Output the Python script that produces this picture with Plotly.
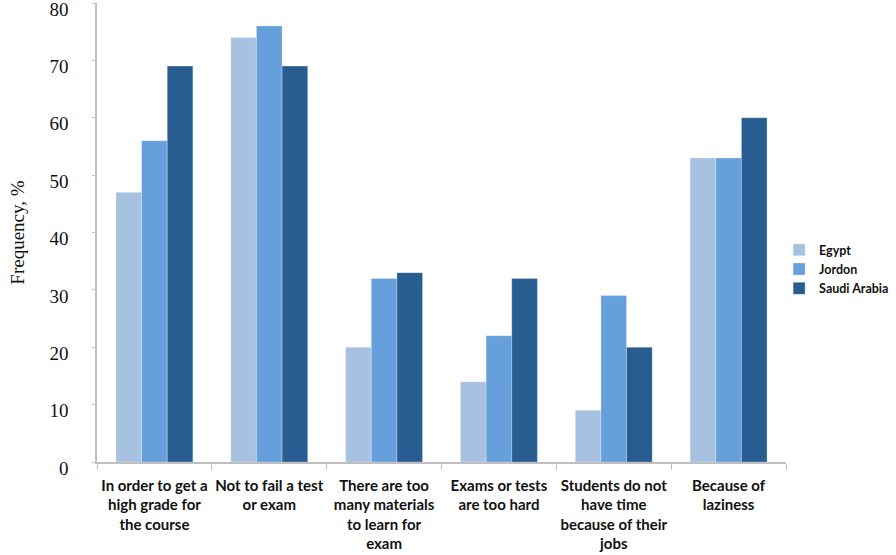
import plotly.graph_objects as go

categories = ["c1", "c2", "c3", "c4", "c5", "c6"]
tick_labels = [
    "In order to get a<br>high grade for<br>the course",
    "Not to fail a test<br>or exam<br> ",
    "There are too<br>many materials<br>to learn for<br>exam",
    "Exams or tests<br>are too hard<br> ",
    "Students do not<br>have time<br>because of their<br>jobs",
    "Because of<br>laziness<br> ",
]
y_ticks = [0, 10, 20, 30, 40, 50, 60, 70, 80]
egypt = [47, 74, 20, 14, 9, 53]
jordon = [56, 76, 32, 22, 29, 53]
saudi = [69, 69, 33, 32, 20, 60]

series = [("Egypt", egypt, "#A7C2E1"), ("Jordon", jordon, "#659FDC"), ("Saudi Arabia", saudi, "#285D91")]

fig = go.Figure()
for name, vals, col in series:
    fig.add_trace(go.Bar(x=categories, y=vals, name=name,
                         marker=dict(color=col, line=dict(color="rgba(255,255,255,0.35)", width=0.8))))

fig.update_layout(
    width=896, height=555,
    margin=dict(l=97, r=110, t=3, b=93, autoexpand=False),
    paper_bgcolor="white", plot_bgcolor="white",
    barmode="group", bargap=0.33, bargroupgap=0,
    legend=dict(x=0.99, y=0.42, xanchor="left", yanchor="middle",
                font=dict(family="Lato", size=12.5, color="#111", weight="bold"),
                itemwidth=30),
    showlegend=True,
)
fig.update_xaxes(
    automargin=False,
    tickmode="array", tickvals=categories, ticktext=tick_labels,
    tickson="boundaries", ticks="outside", ticklen=6, tickcolor="#bfbfbf",
    showline=True, linecolor="#bfbfbf", linewidth=1.5,
    tickfont=dict(family="Lato", size=15, color="#111", weight="bold"),
    tickangle=0, ticklabelstandoff=9,
    showgrid=False,
)
fig.update_yaxes(
    automargin=False,
    range=[0, 80], tickmode="array", tickvals=y_ticks,
    ticks="outside", ticklen=3, tickcolor="#bfbfbf",
    showline=True, linecolor="#bfbfbf", linewidth=1.5, showgrid=False, zeroline=False,
    tickfont=dict(family="Liberation Serif", size=19, color="#111"),
    ticklabelstandoff=20, ticklabelshift=6, ticklabeloverflow="allow",
    title=dict(text="Frequency, %", font=dict(family="Liberation Serif", size=19, color="#111"), standoff=20),
)
fig.write_html("out.html", post_script="document.body.style.margin='0';",
               config={"displayModeBar": False})
